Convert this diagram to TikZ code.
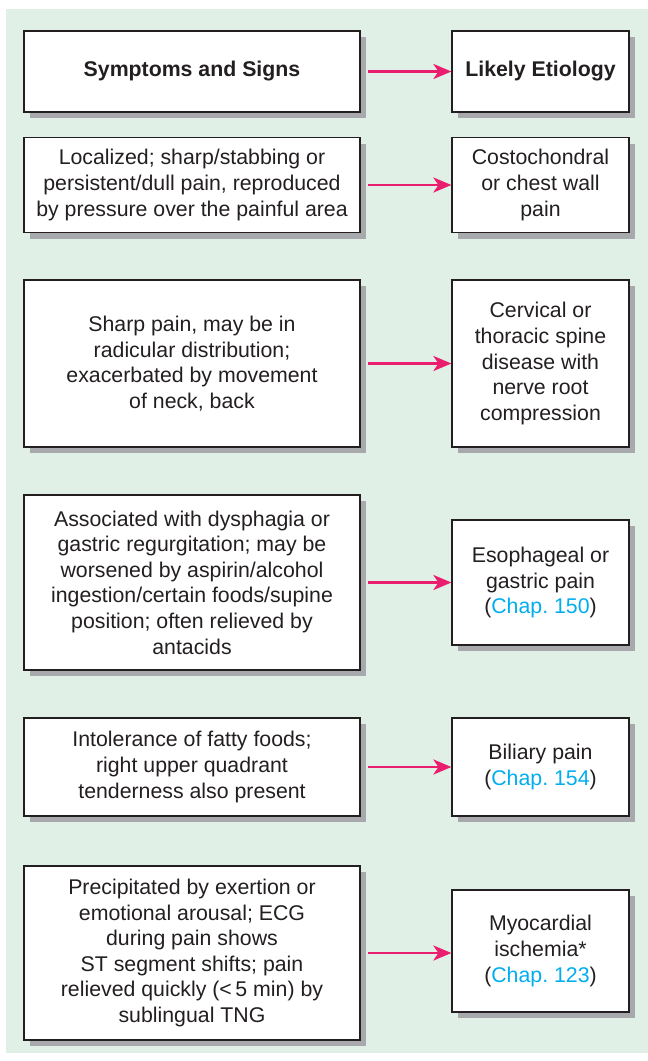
\documentclass[tikz,border=0pt]{standalone}
\usepackage{fontspec}
\setmainfont{Liberation Sans}
\usetikzlibrary{arrows.meta,shadows}
\definecolor{bggreen}{RGB}{224,240,230}
\definecolor{shadowgray}{RGB}{167,169,172}
\definecolor{arrowpink}{RGB}{233,30,110}
\definecolor{chapblue}{RGB}{0,174,239}
\definecolor{textdark}{RGB}{35,31,32}
\newcommand{\chapref}[1]{(\textcolor{chapblue}{Chap.~#1})}
\begin{document}
\begin{tikzpicture}[x=1pt,y=-1pt,
  box/.style={draw=textdark, line width=1.2pt, fill=white, align=center,
    font=\fontsize{21.3}{25.6}\selectfont, text=textdark, inner sep=0pt,
    drop shadow={shadow xshift=6pt, shadow yshift=-6pt, fill=shadowgray, opacity=1}},
  lbox/.style={box, minimum width=336pt},
  rbox/.style={box, minimum width=177pt},
  conn/.style={draw=arrowpink, line width=2.8pt,
    -{Stealth[length=18pt,width=15pt,inset=5pt]}}]
\useasboundingbox (0,0) rectangle (648,1061);
\fill[bggreen] (6,9) rectangle (648,1053);

% header
\node[lbox, minimum height=81pt] (l1) at (192,71.5) {\bfseries Symptoms and Signs};
\node[rbox, minimum height=81pt] (r1) at (540.5,71.5) {\bfseries Likely Etiology};

% row 2
\node[lbox, minimum height=95pt] (l2) at (192,185) {Localized; sharp/stabbing or\\persistent/dull pain, reproduced\\by pressure over the painful area};
\node[rbox, minimum height=95pt] (r2) at (540.5,185) {Costochondral\\or chest wall\\pain};

% row 3
\node[lbox, minimum height=167pt] (l3) at (192,363.5) {Sharp pain, may be in\\radicular distribution;\\exacerbated by movement\\of neck, back};
\node[rbox, minimum height=167pt] (r3) at (540.5,363.5) {Cervical or\\thoracic spine\\disease with\\nerve root\\compression};

% row 4
\node[lbox, minimum height=175pt] (l4) at (192,582.5) {Associated with dysphagia or\\gastric regurgitation; may be\\worsened by aspirin/alcohol\\ingestion/certain foods/supine\\position; often relieved by\\antacids};
\node[rbox, minimum height=125pt] (r4) at (540.5,582.5) {Esophageal or\\gastric pain\\\chapref{150}};

% row 5
\node[lbox, minimum height=98pt] (l5) at (192,767) {Intolerance of fatty foods;\\right upper quadrant\\tenderness also present};
\node[rbox, minimum height=98pt] (r5) at (540.5,767) {Biliary pain\\\chapref{154}};

% row 6
\node[lbox, minimum height=174pt] (l6) at (192,953) {Precipitated by exertion or\\emotional arousal; ECG\\during pain shows\\ST segment shifts; pain\\relieved quickly (<\,5 min) by\\sublingual TNG};
\node[rbox, minimum height=122pt] (r6) at (540.5,951) {Myocardial\\ischemia*\\\chapref{123}};

\foreach \i in {1,...,6}{
  \draw[conn] ([xshift=7pt]l\i.east) -- (r\i.west |- l\i.east);
}
\end{tikzpicture}
\end{document}
